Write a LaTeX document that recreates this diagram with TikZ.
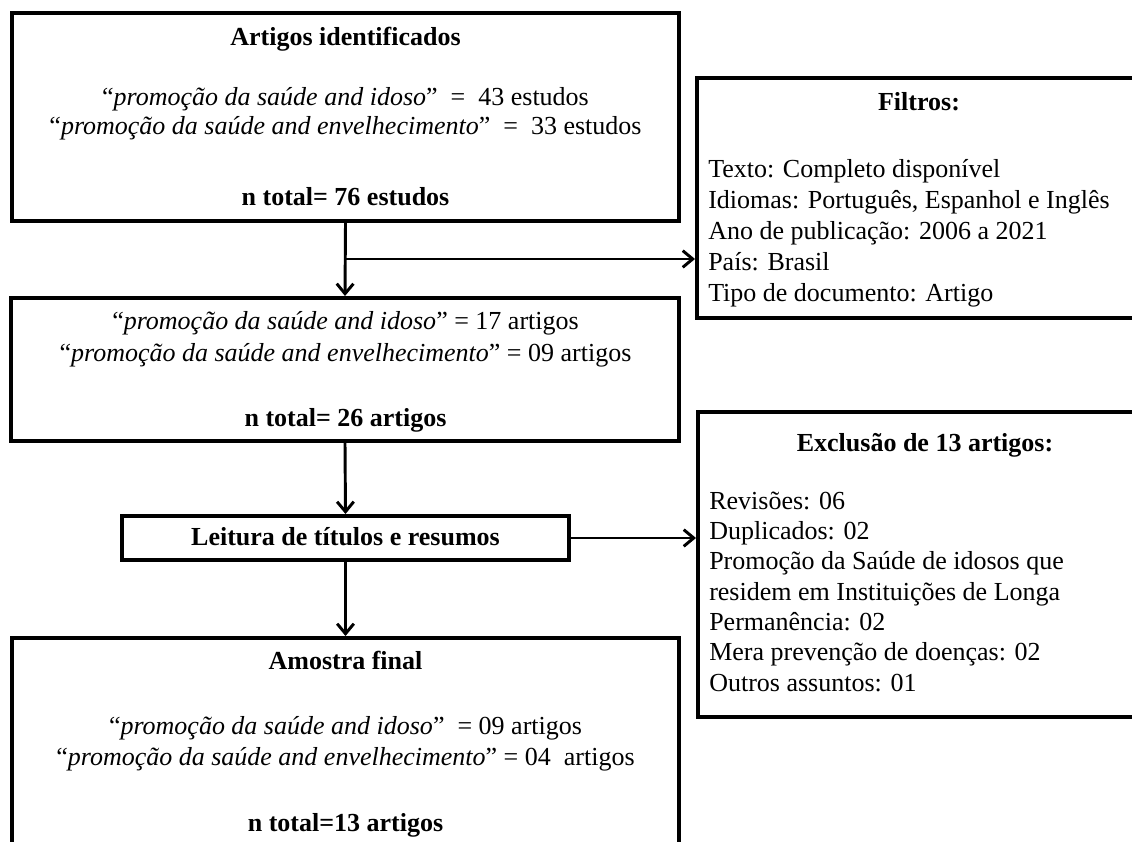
\documentclass[tikz,border=0pt]{standalone}
\usepackage{fontspec}
\setmainfont{Liberation Serif}
\usetikzlibrary{arrows.meta}
\begin{document}
\begin{tikzpicture}[x=0.75pt,y=-0.75pt,
  box/.style={draw=black, line width=3pt, rectangle, inner sep=0pt},
  arr/.style={line width=2.2pt, -{Straight Barb[length=7.5pt,width=12.5pt,line width=2.2pt]}},
  t/.style={anchor=base, inner sep=0pt, font=\fontsize{19.5}{23}\selectfont},
  tb/.style={t, font=\fontsize{19.5}{23}\selectfont\bfseries},
  tl/.style={t, anchor=base west}]
\useasboundingbox (0,0) rectangle (1132,842);
\clip (0,0) rectangle (1132,842);
\fill[white] (0,0) rectangle (1132,842);
% boxes
\node[box, minimum width=500.25pt, minimum height=156pt] (b1) at (345.5,117) {};
\node[box, minimum width=339.75pt, minimum height=180pt] (filt) at (923.5,198) {};
\node[box, minimum width=501pt, minimum height=107.25pt] (b2) at (345,369.5) {};
\node[box, minimum width=335.25pt, minimum height=33pt] (lei) at (345.5,538) {};
\node[box, minimum width=339pt, minimum height=228.75pt] (excl) at (924,564.5) {};
\node[box, minimum width=500.25pt, minimum height=196.5pt] (amo) at (345.5,769) {};
% box 1 text
\node[tb] (b1t) at (345.5,46) {Artigos identificados};
\node[t] (b1a) at (345.5,106) {“\textit{promoção da saúde and idoso}”\ \ =\ \ 43 estudos};
\node[t] (b1b) at (345.5,134) {“\textit{promoção da saúde and envelhecimento}”\ \ =\ \ 33 estudos};
\node[tb] (b1n) at (345.5,205) {n total= 76 estudos};
% filtros text
\node[tb] (ft) at (919,111) {Filtros:};
\node[tl] (f1) at (708,177) {Texto: Completo disponível};
\node[tl] (f2) at (708,208) {Idiomas: Português, Espanhol e Inglês};
\node[tl] (f3) at (708,239) {Ano de publicação: 2006 a 2021};
\node[tl] (f4) at (708,270) {País: Brasil};
\node[tl] (f5) at (708,301) {Tipo de documento: Artigo};
% box 2 text
\node[t] (b2a) at (345.5,329) {“\textit{promoção da saúde and idoso}” = 17 artigos};
\node[t] (b2b) at (345.5,361) {“\textit{promoção da saúde and envelhecimento}” = 09 artigos};
\node[tb] (b2n) at (345.5,426) {n total= 26 artigos};
% leitura
\node[tb] (leit) at (345.5,545) {Leitura de títulos e resumos};
% exclusao text
\node[tb] (et) at (925,451) {Exclusão de 13 artigos:};
\node[tl] (e1) at (709,509) {Revisões: 06};
\node[tl] (e2) at (709,539) {Duplicados: 02};
\node[tl] (e3) at (709,569) {Promoção da Saúde de idosos que};
\node[tl] (e4) at (709,600) {residem em Instituições de Longa};
\node[tl] (e5) at (709,630) {Permanência: 02};
\node[tl] (e6) at (709,660) {Mera prevenção de doenças: 02};
\node[tl] (e7) at (709,691) {Outros assuntos: 01};
% amostra text
\node[tb] (at) at (345.5,669) {Amostra final};
\node[t] (aa) at (345.5,734) {“\textit{promoção da saúde and idoso}”\ \ = 09 artigos};
\node[t] (ab) at (345.5,765) {“\textit{promoção da saúde and envelhecimento}” = 04\ \ artigos};
\node[tb] (an) at (345.5,831) {n total=13 artigos};
% connectors
\coordinate (br) at (345.5,259);
\draw[arr] (b1.south) -- (b2.north);
\draw[arr] (br) -- (br -| filt.west);
\draw[arr] (b2.south) -- (lei.north);
\draw[arr] (lei.east) -- (lei.east -| excl.west);
\draw[arr] (lei.south) -- (amo.north);
\end{tikzpicture}
\end{document}
